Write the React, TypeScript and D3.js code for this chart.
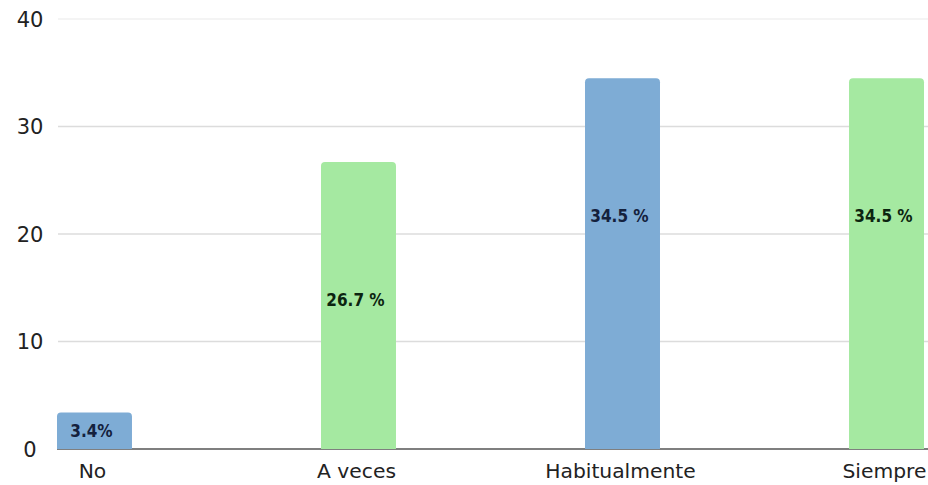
import React from "react";
import * as d3 from "d3";

const categories = ["No", "A veces", "Habitualmente", "Siempre"];
const values = [3.4, 26.7, 34.5, 34.5];
const valueLabels = ["3.4%", "26.7 %", "34.5 %", "34.5 %"];
const barColors = ["#7eacd5", "#a5e9a1", "#7eacd5", "#a5e9a1"];
const labelColors = ["#14213d", "#0c2410", "#14213d", "#0c2410"];
const yTicks = [0, 10, 20, 30, 40];

const W = 928;
const H = 485;

function topRounded(x: number, y: number, w: number, h: number, r: number) {
  const rr = Math.min(r, h, w / 2);
  return `M${x},${y + h}V${y + rr}Q${x},${y} ${x + rr},${y}H${x + w - rr}Q${x + w},${y} ${x + w},${y + rr}V${y + h}Z`;
}

export default function App() {
  const y = d3.scaleLinear().domain([0, 40]).range([449, 19]);
  const x = d3
    .scaleBand<string>()
    .domain(categories)
    .range([57, 924])
    .paddingInner(0.716)
    .paddingOuter(0);
  const bw = x.bandwidth();
  const font = "'DejaVu Sans', sans-serif";

  return (
    <svg
      width={W}
      height={H}
      style={{ position: "absolute", left: 0, top: 0, background: "#fff" }}
    >
      {yTicks.map((t) => (
        <g key={t}>
          {t > 0 && (
            <line
              x1={58}
              x2={W}
              y1={y(t)}
              y2={y(t)}
              stroke={t === 40 ? "#f0f0f0" : "#dcdcdc"}
              strokeWidth={1.5}
            />
          )}
          <text
            x={30}
            y={y(t)}
            dy="0.36em"
            textAnchor="middle"
            fontFamily={font}
            fontSize={21}
            fill="#222"
          >
            {t}
          </text>
        </g>
      ))}
      <line x1={57} x2={W} y1={y(0)} y2={y(0)} stroke="#555" strokeWidth={1.5} />
      {categories.map((c, i) => {
        const x0 = x(c)!;
        const top = y(values[i]);
        const h = y(0) - top;
        const cx = x0 + bw / 2;
        const ly = Math.min(top + 138, top + h / 2);
        return (
          <g key={c}>
            <path d={topRounded(x0, top, bw, h, 4)} fill={barColors[i]} />
            <text
              x={cx - 3}
              y={ly}
              dy="0.36em"
              textAnchor="middle"
              fontFamily="'Liberation Sans Narrow', 'DejaVu Sans Condensed', sans-serif"
              fontWeight="bold"
              fontSize={17}
              fill={labelColors[i]}
            >
              {valueLabels[i]}
            </text>
            <text
              x={cx - 2}
              y={471}
              dy="0.36em"
              textAnchor="middle"
              fontFamily={font}
              fontSize={20.3}
              fill="#222"
            >
              {c}
            </text>
          </g>
        );
      })}
    </svg>
  );
}
